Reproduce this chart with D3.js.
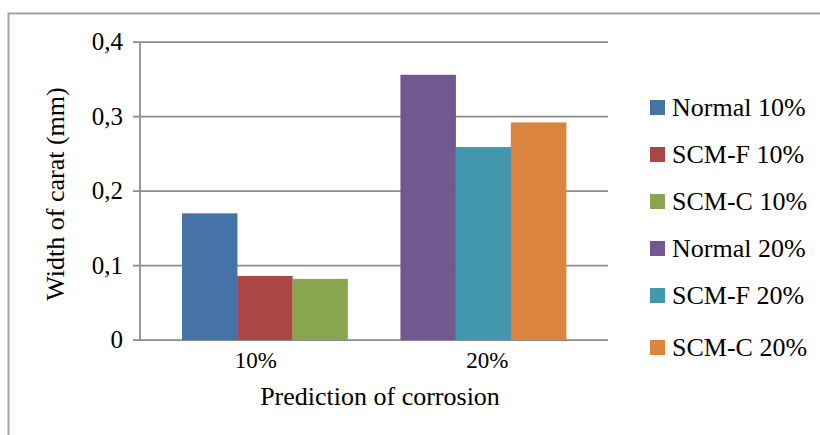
<!DOCTYPE html>
<html>
<head>
<meta charset="utf-8">
<script src="https://cdn.jsdelivr.net/npm/d3@7"></script>
<style>
  html, body { margin: 0; padding: 0; background: #fff; }
  svg { display: block; }
</style>
</head>
<body>
<svg id="chart" width="820" height="435" font-family="'Liberation Serif', Tinos, 'Times New Roman', Times, serif"></svg>
<script>
// ---- data ----
const categories = ["10%", "20%"];
const seriesNames = ["Normal 10%", "SCM-F 10%", "SCM-C 10%", "Normal 20%", "SCM-F 20%", "SCM-C 20%"];
const seriesCategory = ["10%", "10%", "10%", "20%", "20%", "20%"];
const seriesValues = [0.17, 0.086, 0.082, 0.356, 0.259, 0.292];
const seriesColors = ["#4572A7", "#AA4643", "#89A54E", "#71588F", "#4198AF", "#DB843D"];
const yTicks = [0, 0.1, 0.2, 0.3, 0.4];
const yTitle = "Width of carat (mm)";
const xTitle = "Prediction of corrosion";

// ---- layout ----
const svg = d3.select("#chart");
const plot = { left: 140, right: 608, top: 42, bottom: 340 };
const gridColor = "#8c8c8c";

// outer frame (extends beyond the picture at right and bottom)
svg.append("rect")
  .attr("x", 8.5).attr("y", 13.5)
  .attr("width", 840).attr("height", 460)
  .attr("fill", "none").attr("stroke", "#a3a3a3").attr("stroke-width", 2);

const y = d3.scaleLinear().domain([0, 0.4]).range([plot.bottom, plot.top]);
const xCat = d3.scaleBand().domain(categories).range([plot.left, 603]);
const xBar = d3.scaleBand().domain(categories).range([plot.left, plot.right])
  .paddingInner(0.242).paddingOuter(0.192);

const locale = d3.formatLocale({ decimal: ",", thousands: ".", grouping: [3], currency: ["", ""] });
const fmt = v => v === 0 ? "0" : locale.format(".1f")(v);

// gridlines
svg.append("g").selectAll("line").data(yTicks).join("line")
  .attr("x1", plot.left - 7).attr("x2", plot.right)
  .attr("y1", d => y(d)).attr("y2", d => y(d))
  .attr("stroke", gridColor).attr("stroke-width", 1.75);

// y axis line
svg.append("line")
  .attr("x1", plot.left).attr("x2", plot.left)
  .attr("y1", y(0.4)).attr("y2", y(0))
  .attr("stroke", gridColor).attr("stroke-width", 1.75);

// bars
const slotIndex = seriesNames.map((s, i) =>
  seriesCategory.slice(0, i).filter(c => c === seriesCategory[i]).length);
const xSlot = d3.scaleBand().domain([0, 1, 2]).range([0, xBar.bandwidth()]);

svg.append("g").selectAll("rect").data(seriesNames).join("rect")
  .attr("x", (d, i) => xBar(seriesCategory[i]) + xSlot(slotIndex[i]))
  .attr("width", xSlot.bandwidth() + 0.3)
  .attr("y", (d, i) => y(seriesValues[i]))
  .attr("height", (d, i) => y(0) - y(seriesValues[i]))
  .attr("fill", (d, i) => seriesColors[i]);

// y tick labels
svg.append("g").selectAll("text").data(yTicks).join("text")
  .attr("x", 123).attr("y", d => y(d) + 8)
  .attr("text-anchor", "end").attr("font-size", 25)
  .text(d => fmt(d));

// x tick labels
svg.append("g").selectAll("text").data(categories).join("text")
  .attr("x", d => xCat(d) + xCat.bandwidth() / 2).attr("y", 368)
  .attr("text-anchor", "middle").attr("font-size", 23)
  .text(d => d);

// axis titles
svg.append("text")
  .attr("transform", "translate(64,194) rotate(-90)")
  .attr("text-anchor", "middle").attr("font-size", 26)
  .text(yTitle);

svg.append("text")
  .attr("x", 380).attr("y", 405)
  .attr("text-anchor", "middle").attr("font-size", 26)
  .text(xTitle);

// legend
const legend = svg.append("g");
const legY = i => 116 + i * 47 + (i === 5 ? 5 : 0);
legend.selectAll("rect").data(seriesNames).join("rect")
  .attr("x", 650).attr("y", (d, i) => legY(i) - 16)
  .attr("width", 15).attr("height", 15)
  .attr("fill", (d, i) => seriesColors[i]);
legend.selectAll("text").data(seriesNames).join("text")
  .attr("x", 672).attr("y", (d, i) => legY(i))
  .attr("font-size", 26)
  .text(d => d);
</script>
</body>
</html>
